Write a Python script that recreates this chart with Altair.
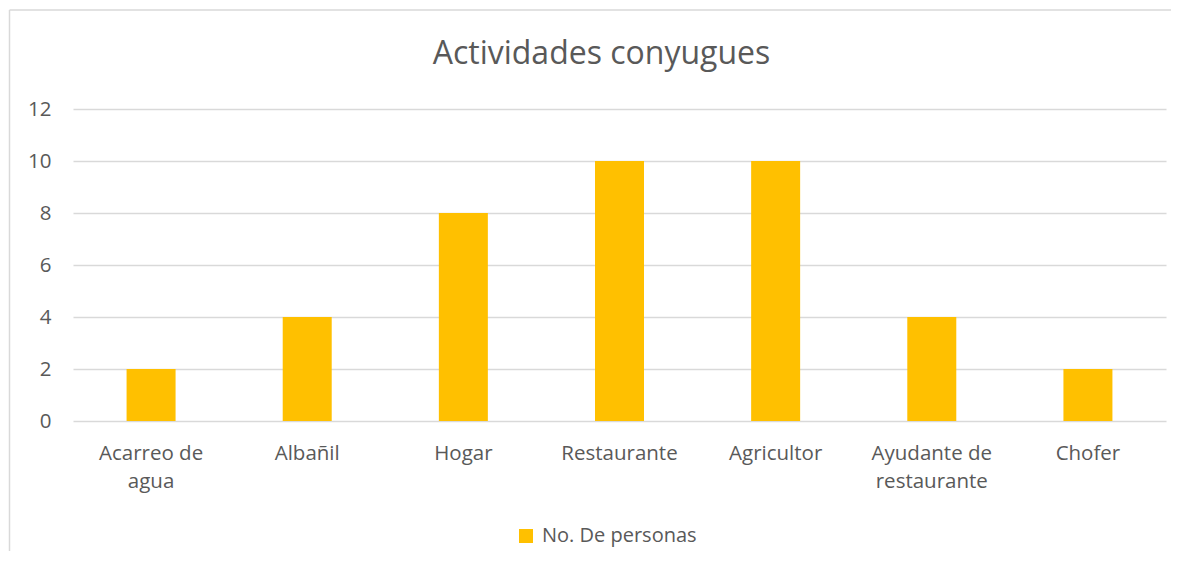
import altair as alt
import pandas as pd

categories = ["Acarreo de agua", "Albañil", "Hogar", "Restaurante", "Agricultor",
              "Ayudante de restaurante", "Chofer"]
values = [2, 4, 8, 10, 10, 4, 2]
series_name = "No. De personas"
y_ticks = [0, 2, 4, 6, 8, 10, 12]

df = pd.DataFrame({"Actividad": categories, "Personas": values,
                   "Serie": [series_name] * len(categories)})

FONT = "Open Sans"
TXT = "#595959"
GRID = "#D9D9D9"

bars = alt.Chart(df).mark_bar(size=49).encode(
    x=alt.X("Actividad:N", sort=categories, title=None,
            scale=alt.Scale(paddingInner=0.686, paddingOuter=0.343),
            axis=alt.Axis(domain=False, ticks=False, grid=False, labelAngle=0,
                          labelFont=FONT, labelFontSize=20.5, labelColor=TXT,
                          labelPadding=22, labelLineHeight=28,
                          labelExpr="split(replace(datum.label, ' de ', ' de|'), '|')")),
    y=alt.Y("Personas:Q", title=None,
            scale=alt.Scale(domain=[0, 12], nice=False),
            axis=alt.Axis(values=y_ticks, domain=False, ticks=False, grid=True,
                          gridColor=GRID, gridWidth=1.5,
                          labelFont=FONT, labelFontSize=20.5, labelColor=TXT,
                          labelPadding=22)),
    color=alt.Color("Serie:N", title=None,
                    scale=alt.Scale(range=["#FFC000"]),
                    legend=alt.Legend(orient="none", legendX=443, legendY=417,
                                      symbolType="square", symbolSize=196,
                                      symbolStrokeWidth=0, symbolOpacity=1,
                                      labelFont=FONT, labelFontSize=20,
                                      labelColor=TXT, labelOffset=6)),
)

edge = pd.DataFrame({"k": [0]})
left_edge = alt.Chart(edge).mark_rule(stroke=GRID, strokeWidth=1.5).encode(
    x=alt.value(-63.5), y=alt.value(-99), y2=alt.value(700))
top_edge = alt.Chart(edge).mark_rule(stroke=GRID, strokeWidth=1.5).encode(
    y=alt.value(-99), x=alt.value(-63.5), x2=alt.value(1300))

chart = alt.layer(left_edge, top_edge, bars).properties(
    width=1093, height=312,
    title=alt.Title("Actividades conyugues", font=FONT, fontSize=32,
                    fontWeight="normal", color=TXT, anchor="middle",
                    baseline="alphabetic", dx=-18, offset=-87),
    autosize=alt.AutoSizeParams(type="none"),
    padding={"left": 65, "top": 101, "right": 5, "bottom": 130},
).configure_view(stroke=None)

chart.save("out.html", embed_options={"renderer": "svg", "actions": False})
